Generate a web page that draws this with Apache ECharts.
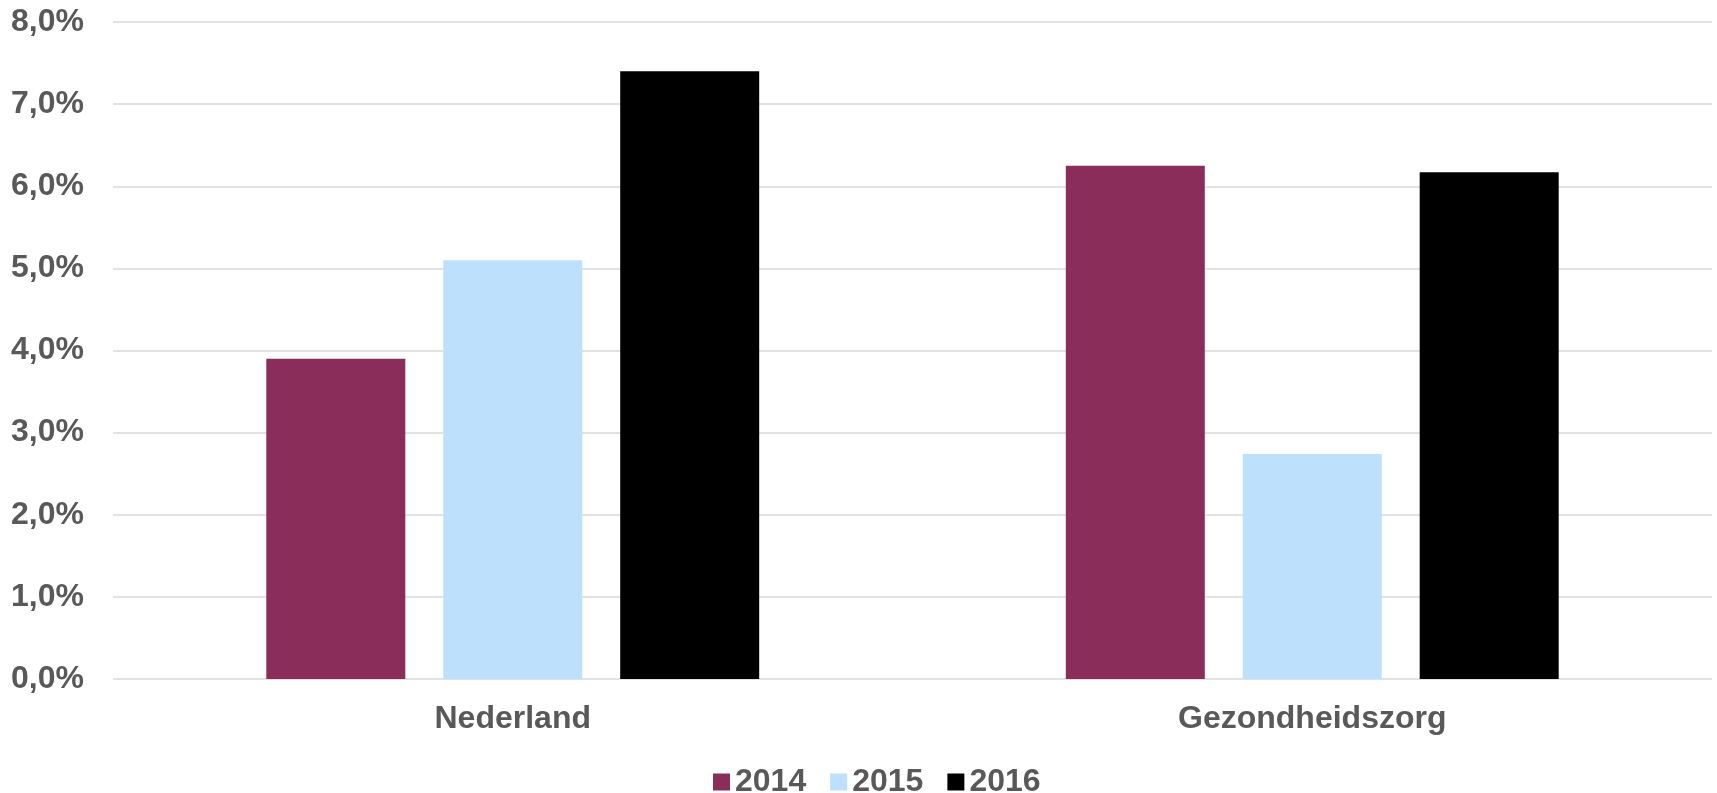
<!DOCTYPE html>
<html>
<head>
<meta charset="utf-8">
<script src="https://cdn.jsdelivr.net/npm/echarts@6/dist/echarts.min.js"></script>
<style>
    html, body { margin: 0; padding: 0; background: #fff; }
    #main { width: 1717px; height: 793px; }
</style>
</head>
<body>
<div id="main"></div>
<script>
// categorieën en waarden (in %)
var categories = ["Nederland", "Gezondheidszorg"];
var years = ["2014", "2015", "2016"];
var values2014 = [3.90, 6.25];
var values2015 = [5.10, 2.74];
var values2016 = [7.40, 6.17];
var colors = ["#8a2d5a", "#bde1fd", "#000000"];

var labelStyle = {
    color: "#595959",
    fontFamily: "Liberation Sans, Arial, sans-serif",
    fontWeight: "bold",
    fontSize: 32
};

var myChart = echarts.init(document.getElementById("main"));
var option = {
    animation: false,
    backgroundColor: "#fff",
    grid: {
        left: 113,
        right: 5,
        top: 22,
        bottom: 114
    },
    legend: {
        data: years,
        left: 708,
        top: 761,
        itemWidth: 17,
        itemHeight: 17,
        itemGap: 24,
        icon: "rect",
        textStyle: labelStyle
    },
    xAxis: {
        type: "category",
        data: categories,
        axisLine: {show: false},
        axisTick: {show: false},
        axisLabel: Object.assign({margin: 24}, labelStyle)
    },
    yAxis: {
        type: "value",
        min: 0,
        max: 8,
        interval: 1,
        axisLine: {show: false},
        axisTick: {show: false},
        splitLine: {lineStyle: {color: "#d9d9d9", width: 1.5}},
        axisLabel: Object.assign({
            margin: 29,
            formatter: function (v) {
                return v.toFixed(1).replace(".", ",") + "%";
            }
        }, labelStyle)
    },
    series: [
        {name: years[0], type: "bar", data: values2014, barWidth: 139, barGap: "27.3%", itemStyle: {color: colors[0]}},
        {name: years[1], type: "bar", data: values2015, barWidth: 139, barGap: "27.3%", itemStyle: {color: colors[1]}},
        {name: years[2], type: "bar", data: values2016, barWidth: 139, barGap: "27.3%", itemStyle: {color: colors[2]}}
    ]
};
myChart.setOption(option);
</script>
</body>
</html>
